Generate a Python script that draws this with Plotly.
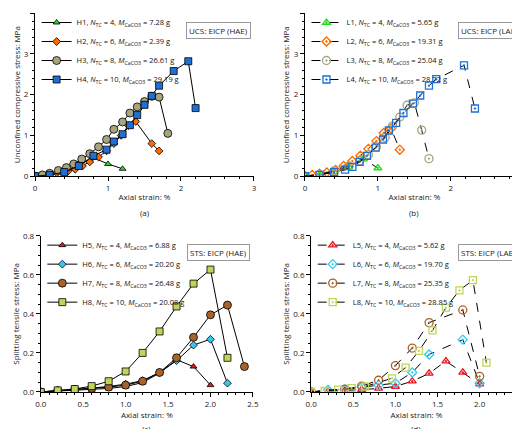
import plotly.graph_objects as go

# (a) UCS, HAE
H1_x = [0, 0.2, 0.4, 0.6, 0.8, 1.0, 1.2]
H1_y = [0, 0.02, 0.1, 0.27, 0.45, 0.3, 0.18]
H2_x = [0, 0.1, 0.2, 0.3, 0.45, 0.55, 0.65, 0.75, 0.87, 0.98, 1.08, 1.18, 1.28, 1.38, 1.6, 1.7]
H2_y = [0, 0.03, 0.05, 0.08, 0.12, 0.17, 0.25, 0.35, 0.47, 0.62, 0.8, 1.0, 1.24, 1.34, 0.8, 0.62]
H3_x = [0, 0.1, 0.2, 0.32, 0.43, 0.53, 0.64, 0.75, 0.87, 0.98, 1.08, 1.2, 1.3, 1.4, 1.5, 1.6, 1.7, 1.82]
H3_y = [0, 0.03, 0.07, 0.14, 0.21, 0.3, 0.42, 0.55, 0.72, 0.9, 1.15, 1.33, 1.55, 1.7, 1.83, 1.96, 1.94, 1.05]
H4_x = [0, 0.2, 0.4, 0.6, 0.8, 0.98, 1.08, 1.2, 1.3, 1.4, 1.5, 1.6, 1.7, 1.9, 2.1, 2.2]
H4_y = [0, 0.03, 0.1, 0.25, 0.5, 0.65, 0.85, 1.03, 1.25, 1.5, 1.75, 1.97, 2.22, 2.58, 2.82, 1.67]

# (b) UCS, LAE
L1_x = [0, 0.2, 0.4, 0.6, 0.8, 1.0]
L1_y = [0, 0.03, 0.1, 0.22, 0.42, 0.2]
L2_x = [0, 0.1, 0.2, 0.3, 0.42, 0.53, 0.65, 0.76, 0.87, 0.98, 1.08, 1.18, 1.3]
L2_y = [0, 0.03, 0.06, 0.09, 0.15, 0.25, 0.37, 0.5, 0.67, 0.86, 1.06, 1.17, 0.65]
L3_x = [0, 0.2, 0.4, 0.6, 0.75, 0.87, 0.98, 1.1, 1.2, 1.3, 1.4, 1.5, 1.6, 1.7]
L3_y = [0, 0.04, 0.13, 0.25, 0.38, 0.53, 0.72, 0.95, 1.23, 1.45, 1.74, 1.8, 1.13, 0.43]
L4_x = [0, 0.2, 0.4, 0.55, 0.65, 0.75, 0.85, 0.97, 1.07, 1.15, 1.25, 1.35, 1.48, 1.58, 1.7, 1.8, 2.18, 2.33]
L4_y = [0, 0.03, 0.1, 0.16, 0.23, 0.35, 0.5, 0.7, 0.9, 1.12, 1.31, 1.55, 1.78, 1.98, 2.22, 2.38, 2.72, 1.66]

# (c) STS, HAE
H5_x = [0, 0.2, 0.4, 0.6, 0.8, 1.0, 1.2, 1.4, 1.6, 1.8, 2.0]
H5_y = [0, 0.005, 0.008, 0.012, 0.018, 0.028, 0.048, 0.097, 0.165, 0.13, 0.035]
H6_x = [0, 0.2, 0.4, 0.6, 0.8, 1.0, 1.2, 1.4, 1.6, 1.8, 2.0, 2.2]
H6_y = [0, 0.008, 0.013, 0.02, 0.028, 0.04, 0.058, 0.1, 0.16, 0.24, 0.27, 0.045]
H7_x = [0, 0.2, 0.4, 0.6, 0.8, 1.0, 1.2, 1.4, 1.6, 1.8, 2.0, 2.2, 2.4]
H7_y = [0, 0.006, 0.012, 0.018, 0.025, 0.035, 0.055, 0.1, 0.175, 0.28, 0.395, 0.445, 0.13]
H8_x = [0, 0.2, 0.4, 0.6, 0.8, 1.0, 1.2, 1.4, 1.6, 1.8, 2.0, 2.2]
H8_y = [0, 0.008, 0.015, 0.03, 0.055, 0.105, 0.2, 0.31, 0.438, 0.555, 0.627, 0.175]

# (d) STS, LAE
L5_x = [0, 0.2, 0.4, 0.6, 0.8, 1.0, 1.2, 1.4, 1.6, 1.8, 2.0]
L5_y = [0, 0.003, 0.007, 0.012, 0.018, 0.028, 0.055, 0.095, 0.158, 0.1, 0.04]
L6_x = [0, 0.2, 0.4, 0.6, 0.8, 1.0, 1.2, 1.4, 1.8, 2.0]
L6_y = [0, 0.01, 0.012, 0.025, 0.035, 0.045, 0.1, 0.192, 0.268, 0.045]
L7_x = [0, 0.4, 0.6, 0.8, 1.0, 1.2, 1.4, 1.8, 2.0]
L7_y = [0, 0.015, 0.03, 0.06, 0.135, 0.225, 0.355, 0.42, 0.08]
L8_x = [0, 0.16, 0.32, 0.48, 0.64, 0.96, 1.12, 1.28, 1.44, 1.6, 1.76, 1.92, 2.08]
L8_y = [0, 0.005, 0.012, 0.02, 0.028, 0.07, 0.125, 0.21, 0.315, 0.432, 0.52, 0.573, 0.15]

FONT = 'Open Sans'


def name(tag, n, m):
    return f"{tag}, <i>N</i><sub>TC</sub> = {n}, <i>M</i><sub>CaCO3</sub> = {m} g"


fig = go.Figure()

panels = [
    [('H1', 4, '7.28', H1_x, H1_y, '#22dd22', 'triangle-up', 6),
     ('H2', 6, '2.39', H2_x, H2_y, '#ff6a00', 'diamond', 6),
     ('H3', 8, '26.61', H3_x, H3_y, '#a8a47e', 'circle', 8),
     ('H4', 10, '29.19', H4_x, H4_y, '#1f6fd6', 'square', 7)],
    [('L1', 4, '5.65', L1_x, L1_y, '#22dd22', 'triangle-up', 7),
     ('L2', 6, '19.31', L2_x, L2_y, '#ff6a00', 'diamond', 7),
     ('L3', 8, '25.04', L3_x, L3_y, '#a8a47e', 'circle', 8),
     ('L4', 10, '28.72', L4_x, L4_y, '#1f6fd6', 'square', 7)],
    [('H5', 4, '6.88', H5_x, H5_y, '#e8141e', 'triangle-up', 6),
     ('H6', 6, '20.20', H6_x, H6_y, '#33c8f0', 'diamond', 6),
     ('H7', 8, '26.48', H7_x, H7_y, '#a8622a', 'circle', 8),
     ('H8', 10, '20.08', H8_x, H8_y, '#c0d45a', 'square', 7)],
    [('L5', 4, '5.62', L5_x, L5_y, '#e8141e', 'triangle-up', 7),
     ('L6', 6, '19.70', L6_x, L6_y, '#33c8f0', 'diamond', 7),
     ('L7', 8, '25.35', L7_x, L7_y, '#a8622a', 'circle', 8),
     ('L8', 10, '28.85', L8_x, L8_y, '#c0d45a', 'square', 7)],
]

for i, series in enumerate(panels):
    ax = '' if i == 0 else str(i + 1)
    dashed = i in (1, 3)
    for tag, n, m, xs, ys, col, sym, sz in series:
        if dashed:
            marker = dict(symbol=sym + '-open-dot', size=sz, color=col, line=dict(color=col, width=1.3))
            line = dict(color='black', width=1, dash='dash')
        else:
            marker = dict(symbol=sym, size=sz, color=col, line=dict(color='black', width=0.8))
            line = dict(color='black', width=1)
        fig.add_trace(go.Scatter(x=xs, y=ys, mode='lines+markers', name=name(tag, n, m),
                                 marker=marker, line=line, xaxis='x' + ax, yaxis='y' + ax,
                                 legend='legend' if i == 0 else 'legend' + str(i + 1)))

xdom = [[0.052, 0.473], [0.571, 0.992], [0.063, 0.471], [0.583, 0.988]]
ydom = [[0.608, 0.988], [0.608, 0.988], [0.105, 0.469], [0.105, 0.469]]
xr = [[0, 3], [0, 3], [0, 2.5], [0, 2.5]]
yr = [[0, 4], [0, 4], [0, 0.8], [0, 0.8]]
ytitle = ['Unconfined compressive stress: MPa'] * 2 + ['Splitting tensile stress: MPa'] * 2
boxes = ['UCS: EICP (HAE)', 'UCS: EICP (LAE)', 'STS: EICP (HAE)', 'STS: EICP (LAE)']
labels = ['(a)', '(b)', '(c)', '(d)']

layout = dict(width=520, height=429, margin=dict(l=0, r=0, t=0, b=0, autoexpand=False),
              paper_bgcolor='white', plot_bgcolor='white',
              font=dict(family=FONT, size=8, color='#222'))
axstyle = dict(showgrid=False, zeroline=False, showline=True, linecolor='black', linewidth=1,
               ticks='outside', ticklen=4, tickcolor='black', tickfont=dict(size=8),
               automargin=False,
               minor=dict(ticks='outside', ticklen=2, tickcolor='black'))
ann = []
for i in range(4):
    ax = '' if i == 0 else str(i + 1)
    xd = 1 if i < 2 else 0.5
    yd = 1 if i < 2 else 0.2
    layout['xaxis' + ax] = dict(axstyle, domain=xdom[i], range=xr[i], dtick=xd,
                                anchor='y' + ax, tickformat='.1f' if i >= 2 else None,
                                title=dict(text='Axial strain: %', font=dict(size=8), standoff=2))
    layout['yaxis' + ax] = dict(axstyle, domain=ydom[i], range=yr[i], dtick=yd,
                                anchor='x' + ax, tickformat='.1f' if i >= 2 else None,
                                title=dict(text=ytitle[i], font=dict(size=8), standoff=2))
    lg = 'legend' if i == 0 else 'legend' + str(i + 1)
    layout[lg] = dict(x=xdom[i][0] + 0.003, y=ydom[i][1] + 0.012, xanchor='left', yanchor='top',
                      bgcolor='rgba(0,0,0,0)', font=dict(size=7.5, color='#111'),
                      tracegroupgap=0, itemwidth=30)
    ann.append(dict(text=boxes[i], xref='paper', yref='paper', x=xdom[i][1] - 0.005,
                    y=ydom[i][1] - 0.02, xanchor='right', yanchor='top', showarrow=False,
                    bordercolor='#999', borderwidth=1, borderpad=2, bgcolor='white',
                    font=dict(size=8)))
    ann.append(dict(text=labels[i], xref='paper', yref='paper', x=sum(xdom[i]) / 2,
                    y=ydom[i][0] - 0.068, xanchor='center', yanchor='top', showarrow=False,
                    font=dict(size=8)))
layout['annotations'] = ann
fig.update_layout(**layout)
fig.write_html("out.html")
